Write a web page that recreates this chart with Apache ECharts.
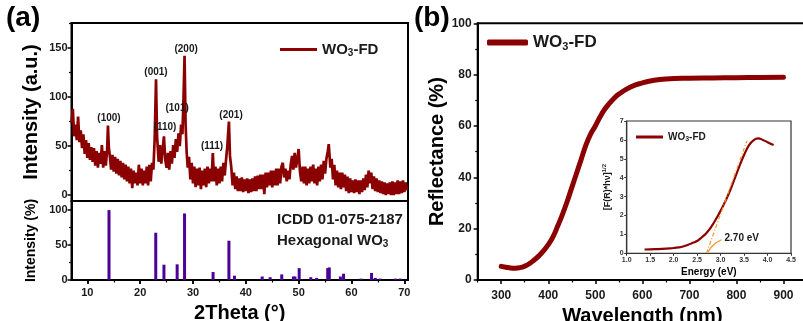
<!DOCTYPE html>
<html>
<head>
<meta charset="utf-8">
<script src="https://cdn.jsdelivr.net/npm/echarts@6.0.0/dist/echarts.min.js"></script>
<style>
  html, body { margin: 0; padding: 0; background: #fff; }
  #chart { width: 803px; height: 321px; }
</style>
</head>
<body>
<div id="chart"></div>
<script>
// (a) XRD pattern of WO3-FD, [2theta, counts]
const xrdPattern = [
  [7.00,74],[7.25,88],[7.50,60],[7.75,72],[8.00,56],[8.25,80],[8.50,54],[8.75,66],
  [9.00,48],[9.25,62],[9.50,42],[9.75,56],[10.00,38],[10.25,53],[10.50,36],[10.75,49],
  [11.00,34],[11.25,48],[11.50,30],[11.75,45],[12.00,28],[12.25,43],[12.50,32],[12.75,51],
  [13.00,28],[13.25,45],[13.50,30],[13.75,47],[13.90,71],[14.05,50],[14.25,40],[14.50,26],[14.75,41],
  [15.00,24],[15.25,39],[15.50,22],[15.75,37],[16.00,20],[16.25,35],[16.50,18],[16.75,33],
  [17.00,16],[17.25,31],[17.50,14],[17.75,29],[18.00,12],[18.25,27],[18.50,7],[18.75,25],
  [19.00,12],[19.25,23],[19.50,10],[19.75,31],[20.00,12],[20.25,27],[20.50,10],[20.75,25],
  [21.00,12],[21.25,29],[21.50,10],[21.75,31],[22.00,14],[22.25,33],[22.50,26],[22.75,58],
  [23.00,118],[23.20,60],[23.50,34],[23.75,51],[24.00,32],[24.25,47],[24.50,60],[24.75,36],
  [25.00,28],[25.25,43],[25.50,26],[25.75,45],[26.00,32],[26.25,51],[26.50,38],[26.75,57],
  [27.00,44],[27.25,63],[27.50,50],[27.75,72],[28.00,62],[28.20,98],[28.40,142],[28.60,72],[28.80,44],
  [29.00,28],[29.25,39],[29.50,16],[29.75,33],[30.00,12],[30.25,29],[30.50,8],[30.75,27],
  [31.00,10],[31.25,28],[31.50,6],[31.75,25],[32.00,10],[32.25,27],[32.50,8],[32.75,29],
  [33.00,12],[33.25,27],[33.50,14],[33.75,43],[34.00,14],[34.25,29],[34.50,10],[34.75,27],
  [35.00,12],[35.25,29],[35.50,14],[35.75,33],[36.00,20],[36.25,36],[36.50,50],[36.80,75],
  [37.00,40],[37.25,28],[37.50,10],[37.75,23],[38.00,6],[38.25,19],[38.50,4],[38.75,17],
  [39.00,4],[39.25,18],[39.50,3],[39.75,16],[40.00,4],[40.25,17],[40.50,2],[40.75,16],
  [41.00,3],[41.25,17],[41.50,4],[41.75,19],[42.00,4],[42.25,20],[42.50,6],[42.75,21],
  [43.00,6],[43.25,21],[43.50,1],[43.75,23],[44.00,8],[44.25,23],[44.50,10],[44.75,25],
  [45.00,8],[45.25,25],[45.50,10],[45.75,27],[46.00,10],[46.25,27],[46.50,12],[46.75,29],
  [47.00,33],[47.25,18],[47.50,27],[47.75,14],[48.00,25],[48.25,16],[48.50,31],[48.75,40],
  [49.00,26],[49.25,43],[49.50,28],[49.75,37],[50.00,47],[50.25,24],[50.50,14],[50.75,29],
  [51.00,12],[51.25,29],[51.50,10],[51.75,27],[52.00,12],[52.25,29],[52.50,14],[52.75,31],
  [53.00,12],[53.25,27],[53.50,10],[53.75,29],[54.00,14],[54.25,31],[54.50,16],[54.75,35],
  [55.00,22],[55.25,37],[55.50,44],[55.70,52],[56.00,28],[56.25,37],[56.50,16],[56.75,31],
  [57.00,10],[57.25,25],[57.50,8],[57.75,23],[58.00,6],[58.25,23],[58.50,8],[58.75,21],
  [59.00,4],[59.25,19],[59.50,2],[59.75,17],[60.00,3],[60.25,15],[60.50,2],[60.75,16],
  [61.00,3],[61.25,15],[61.50,1],[61.75,15],[62.00,3],[62.25,17],[62.50,5],[62.75,21],
  [63.00,8],[63.25,25],[63.50,12],[63.75,23],[64.00,6],[64.25,19],[64.50,4],[64.75,17],
  [65.00,3],[65.25,15],[65.50,2],[65.75,14],[66.00,1],[66.25,13],[66.50,0],[66.75,12],
  [67.00,1],[67.25,13],[67.50,0],[67.75,14],[68.00,0],[68.25,13],[68.50,1],[68.75,15],
  [69.00,1],[69.25,14],[69.50,2],[69.75,15],[70.00,3],[70.25,13],[70.50,5]
]

// hkl labels sitting over the peaks
const hklNames = ['(100)', '(001)', '(200)', '(101)', '(110)', '(111)', '(201)']
const hklAngle = [14.1, 23.0, 28.7, 27.0, 24.7, 33.6, 37.2]
const hklHeight = [78.6, 125.5, 149, 88.8, 69.4, 50, 81.7]

// ICDD 01-075-2187 reference sticks
const refAngle = [14.1, 22.95, 24.5, 27.0, 28.4, 33.8, 36.8, 37.85, 43.1, 44.6, 46.8, 49.0, 49.3, 50.1,
  52.3, 53.4, 55.5, 55.8, 57.9, 58.5, 61.8, 63.8, 64.5, 65.4, 68.3, 69.2]
const refIntensity = [100, 67.6, 21.9, 22.4, 95.2, 11.4, 56.2, 6.2, 5, 4, 8, 5, 5, 17,
  4, 3, 17, 18, 5, 9, 2, 10, 3, 2, 2, 2]

// (b) diffuse reflectance
const wavelength = [300, 310, 320, 330, 340, 350, 360, 370, 380, 390, 400, 410, 420, 430, 440, 450,
  460, 470, 480, 490, 500, 510, 520, 530, 540, 550, 575, 600, 625, 650, 700, 750, 800, 850, 900]
const reflectance = [5.3, 5.0, 4.7, 4.6, 4.8, 5.4, 6.4, 7.8, 9.4, 11.4, 13.8, 16.8, 21, 25.5, 30.5, 36,
  41.5, 47, 52.5, 56.8, 60, 63.5, 66.5, 68.8, 70.8, 72.4, 75.2, 76.8, 77.8, 78.3, 78.6, 78.7, 78.8, 78.9, 79]

// inset: Kubelka-Munk plot
const kmEnergy = [1.38, 1.5, 1.75, 2.0, 2.1, 2.2, 2.3, 2.4, 2.5, 2.6, 2.7, 2.8, 2.9, 3.0, 3.1, 3.2,
  3.3, 3.4, 3.5, 3.6, 3.7, 3.8, 3.9, 4.0, 4.13]
const kmValue = [0.20, 0.21, 0.23, 0.28, 0.31, 0.36, 0.44, 0.55, 0.65, 0.85, 1.08, 1.4, 1.8, 2.25, 2.75, 3.3,
  3.95, 4.6, 5.2, 5.7, 5.98, 6.08, 6.0, 5.88, 5.73]
const tangentLine = [[2.70, 0], [3.56, 5.95]]
const arrowPath = [[3.02, 0.72], [2.9, 0.56], [2.8, 0.32], [2.73, 0.06]]

const FONT = '"Liberation Sans", Arial, sans-serif'
const RED = '#8b0000'
const ORANGE = '#f5962a'
const INK = '#1a1a1a'

const chart = echarts.init(document.getElementById('chart'))

function wo3Rich(size, sub) {
  return {
    a: { fontSize: size, fontWeight: 'bold', fontFamily: FONT, color: INK },
    s: { fontSize: sub, fontWeight: 'bold', fontFamily: FONT, color: INK, verticalAlign: 'bottom', padding: [Math.round(size * 0.45), 0, 0, 0] }
  }
}

function tickAxis(extra) {
  return Object.assign({
    type: 'value',
    splitLine: { show: false },
    axisLine: { show: false },
    axisLabel: { show: false },
    axisTick: { show: true, length: 2.5, lineStyle: { color: '#000', width: 1.2 } }
  }, extra)
}

const labelStyle = (size) => ({ fontSize: size, fontWeight: 'bold', fontFamily: FONT, color: INK })
const nameStyle = (size) => ({ fontSize: size, fontWeight: 'bold', fontFamily: FONT, color: '#000' })
const axisLine = { show: true, onZero: false, lineStyle: { color: '#000', width: 2 } }

const option = {
  animation: false,
  backgroundColor: '#fff',
  title: [
    { text: '(a)', left: 6, top: 4, padding: 0, textStyle: { fontSize: 28, fontWeight: 'bold', fontFamily: FONT, color: '#000' } },
    { text: '(b)', left: 414, top: 4, padding: 0, textStyle: { fontSize: 28, fontWeight: 'bold', fontFamily: FONT, color: '#000' } },
    { text: 'ICDD 01-075-2187', left: 277, top: 212, padding: 0, textStyle: labelStyle(15) },
    { text: '{a|Hexagonal WO}{s|3}', left: 277, top: 232, padding: 0, textStyle: { rich: wo3Rich(15, 10) } }
  ],
  legend: [
    {
      data: [{ name: 'xrd', icon: 'rect' }], left: 275, top: 37, itemWidth: 37, itemHeight: 3,
      formatter: () => '{a|WO}{s|3}{a|-FD}', textStyle: { rich: wo3Rich(15, 10) }, selectedMode: false
    },
    {
      data: [{ name: 'refl', icon: 'roundRect' }], left: 482, top: 29, itemWidth: 41, itemHeight: 6,
      formatter: () => '{a|WO}{s|3}{a|-FD}', textStyle: { rich: wo3Rich(17, 11) }, selectedMode: false
    },
    {
      data: [{ name: 'km', icon: 'rect' }], left: 631, top: 127, itemWidth: 27, itemHeight: 3,
      formatter: () => '{a|WO}{s|3}{a|-FD}', textStyle: { rich: wo3Rich(10, 7) }, selectedMode: false
    }
  ],
  grid: [
    { left: 71.5, right: 395, top: 23, bottom: 120, outerBoundsMode: 'none', show: true, borderColor: '#000', borderWidth: 2 },
    { left: 71.5, right: 395, top: 201, bottom: 41, outerBoundsMode: 'none', show: true, borderColor: '#000', borderWidth: 2 },
    { left: 477.7, right: -4, top: 23.3, bottom: 41, outerBoundsMode: 'none', show: true, borderColor: '#000', borderWidth: 2 },
    { left: 626.7, right: 12, top: 121, bottom: 67.7, outerBoundsMode: 'none', show: true, borderColor: '#333', borderWidth: 1.2, backgroundColor: '#fff' }
  ],
  xAxis: [
    // 0: top of (a)
    { type: 'value', gridIndex: 0, min: 7, max: 70.7, show: false },
    // 1: bottom of (a)
    {
      type: 'value', gridIndex: 1, min: 7, max: 70.7, position: 'bottom',
      axisLine: axisLine,
      axisTick: { show: true, length: 4, customValues: [10, 20, 30, 40, 50, 60, 70], lineStyle: { color: '#000', width: 1.5 } },
      axisLabel: { customValues: [10, 20, 30, 40, 50, 60, 70], margin: 7, ...labelStyle(11) },
      splitLine: { show: false },
      name: '2Theta (°)', nameLocation: 'middle', nameGap: 23, nameTextStyle: nameStyle(20)
    },
    tickAxis({ gridIndex: 1, min: 7, max: 70.7, position: 'bottom', axisTick: { show: true, length: 2.5, customValues: [15, 25, 35, 45, 55, 65], lineStyle: { color: '#000', width: 1.2 } } }),
    tickAxis({ gridIndex: 1, min: 7, max: 70.7, position: 'top', axisTick: { show: true, inside: true, length: 4, customValues: [10, 20, 30, 40, 50, 60, 70], lineStyle: { color: '#000', width: 1.5 } } }),
    // 4: (b) wavelength
    {
      type: 'value', gridIndex: 2, min: 250, max: 950, position: 'bottom',
      axisLine: axisLine,
      axisTick: { show: true, length: 4, customValues: [300, 400, 500, 600, 700, 800, 900], lineStyle: { color: '#000', width: 1.5 } },
      axisLabel: { customValues: [300, 400, 500, 600, 700, 800, 900], margin: 10, ...labelStyle(12) },
      splitLine: { show: false },
      name: 'Wavelength (nm)', nameLocation: 'middle', nameGap: 21, nameTextStyle: nameStyle(20)
    },
    tickAxis({ gridIndex: 2, min: 250, max: 950, position: 'bottom', axisTick: { show: true, length: 2.5, customValues: [250, 350, 450, 550, 650, 750, 850], lineStyle: { color: '#000', width: 1.2 } } }),
    // 6: inset energy
    {
      type: 'value', gridIndex: 3, min: 1, max: 4.5, interval: 0.5, position: 'bottom',
      axisLine: { show: true, onZero: false, lineStyle: { color: '#333', width: 1.2 } },
      axisTick: { show: true, length: 2.5, lineStyle: { color: '#333', width: 1 } },
      axisLabel: { margin: 3, formatter: (v) => v.toFixed(1), fontSize: 7, fontWeight: 'bold', fontFamily: FONT, color: '#333' },
      splitLine: { show: false },
      name: 'Energy (eV)', nameLocation: 'middle', nameGap: 14, nameTextStyle: nameStyle(10)
    }
  ],
  yAxis: [
    // 0: (a) XRD intensity
    {
      type: 'value', gridIndex: 0, min: -6, max: 175.5, position: 'left',
      axisLine: axisLine,
      axisTick: { show: true, length: 4, customValues: [0, 50, 100, 150], lineStyle: { color: '#000', width: 1.5 } },
      axisLabel: { customValues: [0, 50, 100, 150], margin: 4, ...labelStyle(11) },
      splitLine: { show: false },
      name: 'Intensity (a.u.)', nameLocation: 'middle', nameGap: 30, nameTextStyle: nameStyle(20)
    },
    tickAxis({ gridIndex: 0, min: -6, max: 175.5, position: 'left', axisTick: { show: true, length: 2.5, customValues: [25, 75, 125, 175], lineStyle: { color: '#000', width: 1.2 } } }),
    // 2: (a) reference intensity
    {
      type: 'value', gridIndex: 1, min: 0, max: 113, position: 'left',
      axisLine: axisLine,
      axisTick: { show: true, length: 4, customValues: [0, 50, 100], lineStyle: { color: '#000', width: 1.5 } },
      axisLabel: { customValues: [0, 50, 100], margin: 4, ...labelStyle(11) },
      splitLine: { show: false },
      name: 'Intensity (%)', nameLocation: 'middle', nameGap: 33, nameTextStyle: nameStyle(14)
    },
    tickAxis({ gridIndex: 1, min: 0, max: 113, position: 'left', axisTick: { show: true, length: 2.5, customValues: [25, 75], lineStyle: { color: '#000', width: 1.2 } } }),
    // 4: (b) reflectance
    {
      type: 'value', gridIndex: 2, min: 0, max: 100, interval: 20, position: 'left',
      axisLine: axisLine,
      axisTick: { show: true, length: 4, lineStyle: { color: '#000', width: 1.5 } },
      minorTick: { show: true, splitNumber: 2, length: 2.5, lineStyle: { color: '#000', width: 1.2 } },
      axisLabel: { margin: 6, ...labelStyle(12) },
      splitLine: { show: false },
      name: 'Reflectance (%)', nameLocation: 'middle', nameGap: 29, nameTextStyle: nameStyle(20)
    },
    // 5: inset
    {
      type: 'value', gridIndex: 3, min: 0, max: 7, interval: 1, position: 'left',
      axisLine: { show: true, onZero: false, lineStyle: { color: '#333', width: 1.2 } },
      axisTick: { show: true, length: 2.5, lineStyle: { color: '#333', width: 1 } },
      axisLabel: { margin: 3, fontSize: 7, fontWeight: 'bold', fontFamily: FONT, color: '#333' },
      splitLine: { show: false },
      name: '[F(R)*hν]{s|1/2}', nameLocation: 'middle', nameGap: 14,
      nameTextStyle: {
        fontSize: 9, fontWeight: 'bold', fontFamily: FONT, color: INK,
        rich: { s: { fontSize: 6, fontWeight: 'bold', fontFamily: FONT, color: INK, verticalAlign: 'top', padding: [0, 0, 5, 0] } }
      }
    }
  ],
  series: [
    {
      name: 'xrd', type: 'line', xAxisIndex: 0, yAxisIndex: 0,
      data: xrdPattern, showSymbol: false, color: RED,
      lineStyle: { color: RED, width: 2.7 },
      markPoint: {
        symbol: 'circle', symbolSize: 1, itemStyle: { color: 'rgba(0,0,0,0)' },
        label: { show: true, position: 'inside', formatter: '{b}', ...labelStyle(10) },
        data: hklNames.map((n, i) => ({ name: n, coord: [hklAngle[i], hklHeight[i]] }))
      }
    },
    {
      name: 'ref', type: 'bar', xAxisIndex: 1, yAxisIndex: 2,
      data: refAngle.map((a, i) => [a, refIntensity[i]]),
      barWidth: 3, itemStyle: { color: '#4b0096' }
    },
    {
      name: 'refl', type: 'line', xAxisIndex: 4, yAxisIndex: 4,
      data: wavelength.map((w, i) => [w, reflectance[i]]),
      showSymbol: false, smooth: true, color: RED,
      lineStyle: { color: RED, width: 5, cap: 'round' }
    },
    {
      name: 'km', type: 'line', xAxisIndex: 6, yAxisIndex: 5,
      data: kmEnergy.map((e, i) => [e, kmValue[i]]),
      showSymbol: false, smooth: true, color: RED, z: 3,
      lineStyle: { color: RED, width: 2.2 }
    },
    {
      name: 'tangent', type: 'line', xAxisIndex: 6, yAxisIndex: 5,
      data: tangentLine, showSymbol: false, z: 4,
      lineStyle: { color: ORANGE, width: 1.2, type: [4, 2, 1, 2] },
      markPoint: {
        symbol: 'circle', symbolSize: 1, itemStyle: { color: 'rgba(0,0,0,0)' },
        label: { show: true, position: 'inside', formatter: '{b}', ...labelStyle(10) },
        data: [{ name: '2.70 eV', coord: [3.45, 0.82] }]
      }
    },
    {
      name: 'arrow', type: 'lines', coordinateSystem: 'cartesian2d', xAxisIndex: 6, yAxisIndex: 5,
      polyline: true, symbol: ['none', 'arrow'], symbolSize: 5, z: 4,
      lineStyle: { color: ORANGE, width: 1.2, opacity: 1 },
      data: [{ coords: arrowPath }]
    }
  ]
}

chart.setOption(option)
window.onresize = () => {
  chart.resize()
}
</script>
</body>
</html>
